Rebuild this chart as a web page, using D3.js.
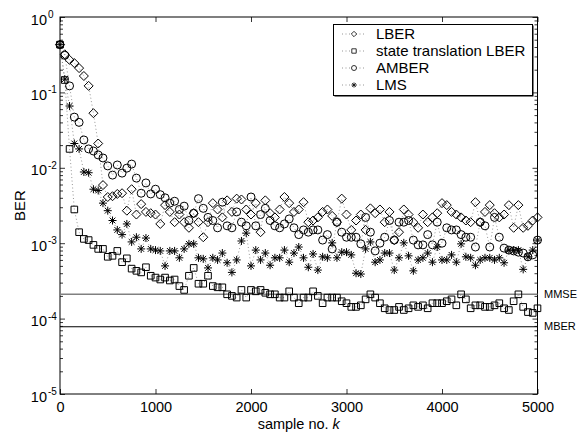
<!DOCTYPE html>
<html>
<head>
<meta charset="utf-8">
<script src="https://cdn.jsdelivr.net/npm/d3@7"></script>
<style>
  body { margin: 0; background: #fff; }
  svg text { font-family: "Liberation Sans", Arial, Helvetica, sans-serif; fill: #000; }
</style>
</head>
<body>
<div id="chart"></div>
<script>
// one marker every 50 samples
const samples = d3.range(0, 5001, 50);

const lber = [
  0.43, 0.32, 0.27, 0.245, 0.21, 0.165, 0.122, 0.053, 0.021, 0.0059,
  0.0041, 0.0042, 0.0045, 0.0046, 0.0027, 0.0052, 0.0024, 0.0033, 0.0026, 0.0025,
  0.0024, 0.0018, 0.0032, 0.0026, 0.0019, 0.0024, 0.0019, 0.0016, 0.0025, 0.0019,
  0.0012, 0.0019, 0.0034, 0.0028, 0.0022, 0.0037, 0.0026, 0.0039, 0.0038, 0.0028,
  0.0024, 0.0034, 0.0014, 0.0037, 0.0025, 0.0022, 0.0028, 0.0041, 0.0034, 0.0026,
  0.0028, 0.0035, 0.0019, 0.0020, 0.0022, 0.0026, 0.0028, 0.0023, 0.0019, 0.0039,
  0.0024, 0.0015, 0.0020, 0.0024, 0.0015, 0.0029, 0.0025, 0.0028, 0.0019, 0.0026,
  0.0011, 0.0014, 0.0028, 0.0024, 0.0019, 0.0016, 0.0024, 0.0019, 0.0022, 0.0025,
  0.0034, 0.0032, 0.0026, 0.0024, 0.0022, 0.0020, 0.0019, 0.0035, 0.0019, 0.0026,
  0.0032, 0.0025, 0.0022, 0.0024, 0.0032, 0.0016, 0.0032, 0.0016, 0.0017, 0.0020,
  0.0022
];

const stLber = [
  0.43, 0.146, 0.0178, 0.0028, 0.0014, 0.00114, 0.0011, 0.00095, 0.00084, 0.00084,
  0.00066, 0.00068, 0.00079, 0.00056, 0.00063, 0.00046, 0.00043, 0.00041, 0.00048, 0.00037,
  0.00035, 0.00033, 0.00035, 0.00032, 0.00033, 0.00027, 0.00024, 0.00037, 0.00047, 0.00029,
  0.00029, 0.00037, 0.00027, 0.00026, 0.00026, 0.00021, 0.00020, 0.00019, 0.00024, 0.00019,
  0.00024, 0.00023, 0.00024, 0.00022, 0.00021, 0.00021, 0.00019, 0.00019, 0.00023, 0.00019,
  0.00016, 0.00019, 0.00019, 0.00023, 0.00020, 0.00016, 0.00019, 0.00019, 0.00019, 0.00017,
  0.00016, 0.000143, 0.000143, 0.00015, 0.00018, 0.00021, 0.00019, 0.00016, 0.000137, 0.00013,
  0.00013, 0.000143, 0.00013, 0.000137, 0.00015, 0.000143, 0.00015, 0.000137, 0.00016, 0.00016,
  0.00016, 0.00017, 0.00018, 0.00015, 0.00021, 0.00018, 0.000137, 0.00015, 0.00015, 0.000143,
  0.000143, 0.00015, 0.00016, 0.000137, 0.00013, 0.00017, 0.00021, 0.000143, 0.000122, 0.000119,
  0.000137
];

const amber = [
  0.43, 0.31, 0.122, 0.047, 0.040, 0.0234, 0.0178, 0.0167, 0.0148, 0.0135,
  0.0106, 0.0080, 0.0109, 0.0085, 0.0099, 0.0112, 0.0073, 0.0046, 0.0063, 0.0045,
  0.0052, 0.0044, 0.0040, 0.0034, 0.0036, 0.0028, 0.0031, 0.0020, 0.0025, 0.0039,
  0.0029, 0.0022, 0.0020, 0.0016, 0.0035, 0.0017, 0.0016, 0.0026, 0.0019, 0.0017,
  0.0041, 0.0017, 0.0024, 0.0029, 0.0020, 0.0017, 0.0016, 0.0018, 0.0021, 0.0016,
  0.0013, 0.0015, 0.0014, 0.0015, 0.0015, 0.0011, 0.0013, 0.00084, 0.0019, 0.0014,
  0.0012, 0.0012, 0.0012, 0.00098, 0.0022, 0.0014, 0.00079, 0.0010, 0.0012, 0.0020,
  0.0011, 0.0019, 0.0019, 0.0020, 0.0011, 0.00095, 0.00095, 0.0013, 0.00095, 0.0019,
  0.0010, 0.0016, 0.0015, 0.0015, 0.0013, 0.0012, 0.0012, 0.00089, 0.0019, 0.0017,
  0.00089, 0.0022, 0.0012, 0.00086, 0.00081, 0.00079, 0.00076, 0.00074, 0.00066, 0.00070,
  0.0011
];

const lms = [
  0.43, 0.15, 0.066, 0.021, 0.0178, 0.0088, 0.0086, 0.0052, 0.0050, 0.0034,
  0.0027, 0.0020, 0.0015, 0.0013, 0.0018, 0.00104, 0.0012, 0.00084, 0.00117, 0.00084,
  0.00081, 0.00079, 0.0005, 0.00079, 0.00079, 0.00064, 0.00084, 0.00098, 0.00098, 0.00064,
  0.00062, 0.00047, 0.00064, 0.0006, 0.00074, 0.00055, 0.00041, 0.0006, 0.00107, 0.00136,
  0.0005, 0.00081, 0.0006, 0.00074, 0.00051, 0.00064, 0.00064, 0.00081, 0.00056, 0.00074,
  0.00089, 0.00064, 0.00048, 0.00072, 0.00044, 0.00066, 0.00064, 0.00101, 0.00064, 0.00076,
  0.00076, 0.0007, 0.0004, 0.00039, 0.00084, 0.00104, 0.00056, 0.0006, 0.00074, 0.00074,
  0.00044, 0.00064, 0.00101, 0.00068, 0.00043, 0.0006, 0.00064, 0.00074, 0.00056, 0.00089,
  0.0006, 0.0006, 0.0007, 0.00056, 0.00098, 0.00066, 0.00064, 0.00051, 0.0006, 0.00064,
  0.00064, 0.0006, 0.00064, 0.00055, 0.00081, 0.00081, 0.00081, 0.00045, 0.00066, 0.00081,
  0.0011
];

// reference levels drawn as horizontal lines
const mmse = 2.1e-4;
const mber = 7.8e-5;

const xTicks = [0, 1000, 2000, 3000, 4000, 5000];
const yDecades = [1e-5, 1e-4, 1e-3, 1e-2, 1e-1, 1];
const yExponents = ["-5", "-4", "-3", "-2", "-1", "0"];
const legendNames = ["LBER", "state translation LBER", "AMBER", "LMS"];

const width = 586, height = 432;
const plotLeft = 60, plotRight = 537.5, plotTop = 17, plotBottom = 394;

// marker shapes (size = half width in px)
const diamond = { draw(c, r) { c.moveTo(0, -r); c.lineTo(r, 0); c.lineTo(0, r); c.lineTo(-r, 0); c.closePath(); } };
const square = { draw(c, r) { c.rect(-r, -r, 2 * r, 2 * r); } };
const ring = { draw(c, r) { c.moveTo(r, 0); c.arc(0, 0, r, 0, 2 * Math.PI); } };
const star = { draw(c, r) {
  const d = r * 0.72;
  c.moveTo(-r, 0); c.lineTo(r, 0);
  c.moveTo(0, -r); c.lineTo(0, r);
  c.moveTo(-d, -d); c.lineTo(d, d);
  c.moveTo(-d, d); c.lineTo(d, -d);
} };

const series = [
  { name: legendNames[0], values: lber, shape: diamond, size: 4.5, small: 2.7 },
  { name: legendNames[1], values: stLber, shape: square, size: 3.3, small: 2.2 },
  { name: legendNames[2], values: amber, shape: ring, size: 4, small: 2.5 },
  { name: legendNames[3], values: lms, shape: star, size: 4, small: 2.6 }
];

const svg = d3.select("#chart").append("svg")
  .attr("width", width)
  .attr("height", height)
  .style("background", "#fff");

const x = d3.scaleLinear().domain([0, 5000]).range([plotLeft, plotRight]);
const y = d3.scaleLog().domain([1e-5, 1]).range([plotBottom, plotTop]);

// minor log ticks (2..9 in each decade)
const minor = y.ticks().filter(v => yDecades.indexOf(v) < 0);

// x axis, bottom with labels, top without
svg.append("g")
  .attr("transform", "translate(0," + plotBottom + ")")
  .call(d3.axisBottom(x).tickValues(xTicks).tickSize(-5).tickPadding(8).tickFormat(d3.format("d")))
  .call(g => g.select(".domain").remove())
  .call(g => g.selectAll("text").style("font-size", "14.5px"));

svg.append("g")
  .attr("transform", "translate(0," + plotTop + ")")
  .call(d3.axisTop(x).tickValues(xTicks).tickSize(-5).tickFormat(""))
  .call(g => g.select(".domain").remove());

// y axis, left and right
const yLeft = svg.append("g")
  .attr("transform", "translate(" + plotLeft + ",0)")
  .call(d3.axisLeft(y).tickValues(yDecades).tickSize(-5).tickFormat(""))
  .call(g => g.select(".domain").remove());

svg.append("g")
  .attr("transform", "translate(" + plotLeft + ",0)")
  .call(d3.axisLeft(y).tickValues(minor).tickSize(-3).tickFormat(""))
  .call(g => g.select(".domain").remove());

svg.append("g")
  .attr("transform", "translate(" + plotRight + ",0)")
  .call(d3.axisRight(y).tickValues(yDecades).tickSize(-5).tickFormat(""))
  .call(g => g.select(".domain").remove());

svg.append("g")
  .attr("transform", "translate(" + plotRight + ",0)")
  .call(d3.axisRight(y).tickValues(minor).tickSize(-3).tickFormat(""))
  .call(g => g.select(".domain").remove());

svg.selectAll(".tick line").attr("stroke", "#000").attr("stroke-width", 0.8);

// 10^n labels
yLeft.selectAll(".tick").each(function(d) {
  const t = d3.select(this);
  t.append("text")
    .attr("x", -13).attr("y", 7)
    .attr("text-anchor", "end")
    .style("font-size", "14.5px")
    .text("10");
  t.append("text")
    .attr("x", -12).attr("y", 0.5)
    .attr("text-anchor", "start")
    .style("font-size", "10px")
    .text(yExponents[yDecades.indexOf(d)]);
});

// plot frame
svg.append("rect")
  .attr("x", plotLeft).attr("y", plotTop)
  .attr("width", plotRight - plotLeft).attr("height", plotBottom - plotTop)
  .attr("fill", "none").attr("stroke", "#000").attr("stroke-width", 1);

// MMSE and MBER levels
svg.append("line")
  .attr("x1", plotLeft).attr("x2", plotRight)
  .attr("y1", y(mmse)).attr("y2", y(mmse))
  .attr("stroke", "#808080").attr("stroke-width", 1.4);
svg.append("line")
  .attr("x1", plotLeft).attr("x2", plotRight)
  .attr("y1", y(mber)).attr("y2", y(mber))
  .attr("stroke", "#000").attr("stroke-width", 1.2);

svg.append("text").attr("x", 544).attr("y", y(mmse)).attr("dy", "0.35em")
  .style("font-size", "11px").text("MMSE");
svg.append("text").attr("x", 544).attr("y", y(mber) - 1).attr("dy", "0.35em")
  .style("font-size", "11px").text("MBER");

// dotted connecting lines
const line = d3.line()
  .x((d, i) => x(samples[i]))
  .y(d => y(d));

series.forEach(s => {
  svg.append("path")
    .datum(s.values)
    .attr("d", line)
    .attr("fill", "none")
    .attr("stroke", "#8a8a8a")
    .attr("stroke-width", 0.9)
    .attr("stroke-dasharray", "1,2.5");
});

// markers
series.forEach(s => {
  svg.append("g")
    .selectAll("path")
    .data(s.values)
    .enter()
    .append("path")
    .attr("d", d3.symbol().type(s.shape).size(s.size))
    .attr("transform", (d, i) => "translate(" + x(samples[i]) + "," + y(d) + ")")
    .attr("fill", "none")
    .attr("stroke", "#000")
    .attr("stroke-width", 1);
});

// legend
const lg = svg.append("g");
lg.append("rect")
  .attr("x", 334.5).attr("y", 25.5).attr("width", 199).attr("height", 71)
  .attr("fill", "#000");
lg.append("rect")
  .attr("x", 333.5).attr("y", 24.5).attr("width", 199).attr("height", 71)
  .attr("fill", "#fff").attr("stroke", "#000").attr("stroke-width", 1);

series.forEach((s, i) => {
  const ry = 34 + i * 17;
  lg.append("line")
    .attr("x1", 342).attr("x2", 366).attr("y1", ry).attr("y2", ry)
    .attr("stroke", "#8a8a8a").attr("stroke-width", 0.9)
    .attr("stroke-dasharray", "1,2.5");
  lg.append("path")
    .attr("d", d3.symbol().type(s.shape).size(s.small))
    .attr("transform", "translate(354," + ry + ")")
    .attr("fill", "#fff").attr("stroke", "#111").attr("stroke-width", 0.85);
  lg.append("text")
    .attr("x", 376).attr("y", ry).attr("dy", "0.36em")
    .style("font-size", "15px")
    .text(s.name);
});

// axis titles
svg.append("text")
  .attr("x", (plotLeft + plotRight) / 2).attr("y", 429)
  .attr("text-anchor", "middle")
  .style("font-size", "14.5px")
  .text("sample no. ")
  .append("tspan").style("font-style", "italic").text("k");

svg.append("text")
  .attr("transform", "translate(25," + (plotTop + plotBottom) / 2 + ") rotate(-90)")
  .attr("text-anchor", "middle")
  .style("font-size", "15px")
  .text("BER");
</script>
</body>
</html>
